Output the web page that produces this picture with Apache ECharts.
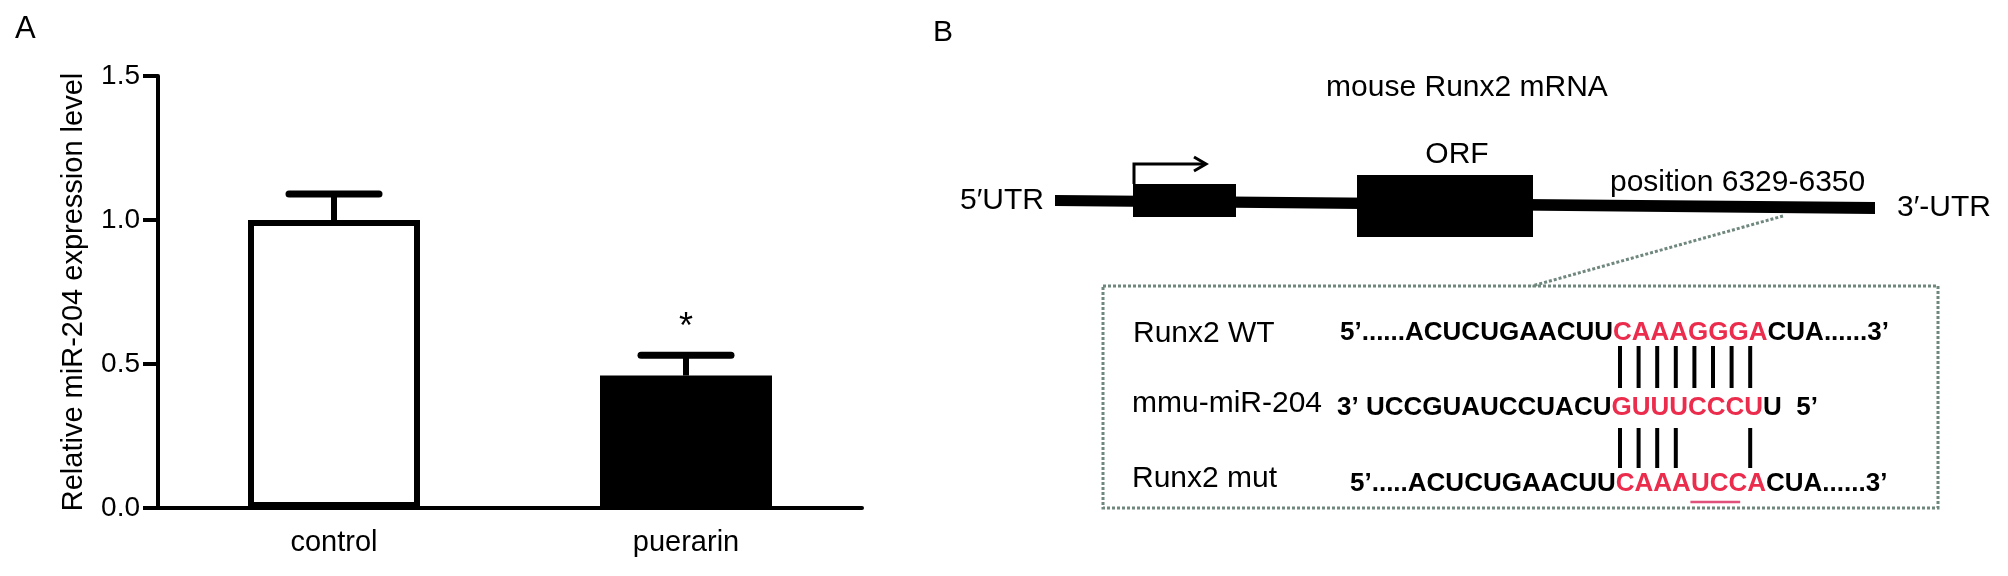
<!DOCTYPE html>
<html>
<head>
<meta charset="utf-8">
<script src="https://cdn.jsdelivr.net/npm/echarts@6/dist/echarts.min.js"></script>
<style>
html, body { margin: 0; background: #fff; }
#main { width: 2008px; height: 576px; }
</style>
</head>
<body>
<div id="main"></div>
<script>
// panel A data
var categories = ['control', 'puerarin'];
var means = [1.0, 0.46];
var errUp = [0.09, 0.07];
var barFill = ['#ffffff', '#000000'];
var starred = [false, true];
var yMin = 0, yMax = 1.5, yStep = 0.5;

// panel B data
var rowLabels = ['Runx2 WT', 'mmu-miR-204', 'Runx2 mut'];
var seqWT = [['5’......ACUCUGAACUU', 'k'], ['CAAAGGGA', 'r'], ['CUA......3’', 'k']];
var seqMiR = [['3’ UCCGUAUCCUACU', 'k'], ['GUUUCCCU', 'r'], ['U\u00a0\u00a05’', 'k']];
var seqMut = [['5’.....ACUCUGAACUU', 'k'], ['CAAAUCCA', 'r'], ['CUA......3’', 'k']];
var pairsWT = [0, 1, 2, 3, 4, 5, 6, 7];
var pairsMut = [0, 1, 2, 3, 7];
var mutated = [4, 5, 6];

var FONT = 'Liberation Sans, Arial, sans-serif';
var RED = '#ec2c4c';
var DOT = '#6f877d';

var chartDom = document.getElementById('main');
var myChart = echarts.init(chartDom);
var option;

function rich(segs) {
  return segs.map(function (s) { return '{' + s[1] + '|' + s[0] + '}'; }).join('');
}
var seqRich = {
  k: { fontSize: 26, fontWeight: 'bold', fontFamily: FONT, fill: '#000' },
  r: { fontSize: 26, fontWeight: 'bold', fontFamily: FONT, fill: RED }
};

var pairX0 = 1620, pairStep = 18.6;
function pairLines(idx, y1, y2) {
  return idx.map(function (i) {
    return {
      type: 'line',
      shape: { x1: pairX0 + i * pairStep, y1: y1, x2: pairX0 + i * pairStep, y2: y2 },
      style: { stroke: '#000', lineWidth: 4 }
    };
  });
}
function label(text, x, y, size, align) {
  return { type: 'text', style: { text: text, x: x, y: y, font: (size || 30) + 'px ' + FONT, fill: '#000',
    align: align || 'left', verticalAlign: 'middle' } };
}

var graphics = [
  label('A', 15, 29, 31),
  label('B', 933, 33, 30),
  label('mouse Runx2 mRNA', 1467, 88, 30, 'center'),
  // backbone
  { type: 'polygon', shape: { points: [[1055, 195], [1875, 202], [1875, 214], [1055, 206]] }, style: { fill: '#000' } },
  { type: 'rect', shape: { x: 1133, y: 184, width: 103, height: 33 }, style: { fill: '#000' } },
  { type: 'rect', shape: { x: 1357, y: 175, width: 176, height: 62 }, style: { fill: '#000' } },
  { type: 'polyline', shape: { points: [[1134, 184], [1134, 164], [1205, 164]] }, style: { stroke: '#000', lineWidth: 3, fill: null } },
  { type: 'polyline', shape: { points: [[1194, 157], [1206, 164], [1194, 171]] }, style: { stroke: '#000', lineWidth: 3, fill: null } },
  label('ORF', 1457, 155, 30, 'center'),
  label('5′UTR', 960, 201, 30),
  label('3′-UTR', 1897, 208, 30),
  label('position 6329-6350', 1610, 183, 30),
  // zoom lines
  { type: 'line', shape: { x1: 1783, y1: 216, x2: 1532, y2: 286 }, style: { stroke: DOT, lineWidth: 3, lineDash: [3, 2] } },
  { type: 'rect', shape: { x: 1103, y: 286, width: 835, height: 222 }, style: { fill: null, stroke: DOT, lineWidth: 3, lineDash: [3, 2] } },
  label(rowLabels[0], 1133, 334, 30),
  label(rowLabels[1], 1132, 404, 30),
  label(rowLabels[2], 1132, 479, 30),
  { type: 'text', style: { text: rich(seqWT), x: 1340, y: 333, verticalAlign: 'middle', rich: seqRich, font: 'bold 26px ' + FONT } },
  { type: 'text', style: { text: rich(seqMiR), x: 1337, y: 408, verticalAlign: 'middle', rich: seqRich, font: 'bold 26px ' + FONT } },
  { type: 'text', style: { text: rich(seqMut), x: 1350, y: 484, verticalAlign: 'middle', rich: seqRich, font: 'bold 26px ' + FONT } },
  { type: 'line', shape: { x1: pairX0 + mutated[0] * pairStep - 4, y1: 502, x2: pairX0 + (mutated[mutated.length - 1] + 1) * pairStep - 10, y2: 502 },
    style: { stroke: '#e0507a', lineWidth: 2.5 } }
].concat(pairLines(pairsWT, 346, 388), pairLines(pairsMut, 428, 468));

var errData = categories.map(function (c, i) { return [i, means[i], means[i] + errUp[i], starred[i] ? 1 : 0]; });

option = {
  animation: false,
  backgroundColor: '#fff',
  grid: { left: 158, right: 1146, top: 76, bottom: 68 },
  xAxis: {
    type: 'category',
    data: categories,
    axisLine: { lineStyle: { color: '#000', width: 4 } },
    axisTick: { show: false },
    axisLabel: { color: '#000', fontSize: 29, fontFamily: FONT, margin: 20 }
  },
  yAxis: {
    type: 'value',
    min: yMin, max: yMax, interval: yStep,
    name: 'Relative miR-204 expression level',
    nameLocation: 'middle',
    nameGap: 70,
    nameTextStyle: { color: '#000', fontSize: 29, fontFamily: FONT },
    splitLine: { show: false },
    axisLine: { show: true, lineStyle: { color: '#000', width: 4 } },
    axisTick: { show: true, length: 15, lineStyle: { color: '#000', width: 4 } },
    axisLabel: { color: '#000', fontSize: 28, fontFamily: FONT, margin: 18,
      formatter: function (v) { return v.toFixed(1); } }
  },
  series: [
    {
      type: 'bar',
      barWidth: 172,
      data: means.map(function (v, i) {
        return { value: v, itemStyle: { color: barFill[i], borderColor: '#000', borderWidth: 6 } };
      })
    },
    {
      type: 'custom',
      data: errData,
      z: 3,
      renderItem: function (params, api) {
        var base = api.coord([api.value(0), api.value(1)]);
        var top = api.coord([api.value(0), api.value(2)]);
        var kids = [
          { type: 'line', shape: { x1: top[0], y1: top[1], x2: base[0], y2: base[1] }, style: { stroke: '#000', lineWidth: 6 } },
          { type: 'line', shape: { x1: top[0] - 45, y1: top[1], x2: top[0] + 45, y2: top[1] }, style: { stroke: '#000', lineWidth: 7, lineCap: 'round' } }
        ];
        if (api.value(3)) {
          kids.push({ type: 'text', style: { text: '*', x: top[0], y: top[1] - 27, align: 'center', verticalAlign: 'middle',
            font: '36px ' + FONT, fill: '#000' } });
        }
        return { type: 'group', children: kids };
      }
    }
  ],
  graphic: graphics
};

option && myChart.setOption(option);
</script>
</body>
</html>
